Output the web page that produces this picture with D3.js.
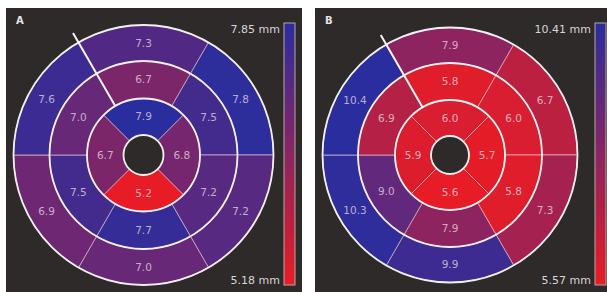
<!DOCTYPE html>
<html><head><meta charset="utf-8">
<script src="https://cdn.jsdelivr.net/npm/d3@7"></script>
<style>html,body{margin:0;padding:0;background:#fff;}svg{display:block;}</style>
</head><body>
<script>
// Data (segments listed clockwise from 12 o'clock)
const panelNames = ["A", "B"];
const outerA = [7.3, 7.8, 7.2, 7.0, 6.9, 7.6];
const middleA = [6.7, 7.5, 7.2, 7.7, 7.5, 7.0];
const innerA = [7.9, 6.8, 5.2, 6.7];
const outerB = [7.9, 6.7, 7.3, 9.9, 10.3, 10.4];
const middleB = [5.8, 6.0, 5.8, 7.9, 9.0, 6.9];
const innerB = [6.0, 5.7, 5.6, 5.9];
const rangeA = [5.18, 7.85];
const rangeB = [5.57, 10.41];
const tickLabelsA = ["7.85 mm", "5.18 mm"];
const tickLabelsB = ["10.41 mm", "5.57 mm"];

const W = 607, H = 292;
const svg = d3.select("body").append("svg").attr("width", W).attr("height", H);
const defs = svg.append("defs");
const RED = "#e91c25", BLUE = "#2a2d9e";
const grad = defs.append("linearGradient").attr("id", "cbar").attr("x1", 0).attr("y1", 1).attr("x2", 0).attr("y2", 0);
d3.range(0, 1.0001, 0.1).forEach(t => grad.append("stop").attr("offset", t).attr("stop-color", d3.interpolateRgb(RED, BLUE)(t)));

const panels = [
  {name: panelNames[0], x: 6, w: 296, cx: 143.5, cy: 155, r: [20, 56.5, 94, 130],
   outer: outerA, middle: middleA, inner: innerA, range: rangeA, ticks: tickLabelsA, barX: 284},
  {name: panelNames[1], x: 315, w: 292, cx: 450, cy: 155, r: [19, 55, 92, 127.5],
   outer: outerB, middle: middleB, inner: innerB, range: rangeB, ticks: tickLabelsB, barX: 595}
];

const deg = Math.PI / 180;
panels.forEach(p => {
  const g = svg.append("g");
  g.append("rect").attr("x", p.x).attr("y", 8).attr("width", p.w).attr("height", H - 8).attr("fill", "#2d2a29");
  g.append("text").attr("x", p.x + 10).attr("y", 24).text(p.name)
    .attr("fill", "#e6e6e6").attr("font-family", "DejaVu Sans").attr("font-weight", "bold").attr("font-size", 10);

  const color = d3.scaleLinear().domain(p.range).range([RED, BLUE]).interpolate(d3.interpolateRgb).clamp(true);
  const c = g.append("g").attr("transform", `translate(${p.cx},${p.cy})`);
  const rings = [
    {vals: p.outer, r0: p.r[2], r1: p.r[3], n: 6},
    {vals: p.middle, r0: p.r[1], r1: p.r[2], n: 6},
    {vals: p.inner, r0: p.r[0], r1: p.r[1], n: 4}
  ];
  rings.forEach(ring => {
    const step = 360 / ring.n;
    const segs = ring.vals.map((v, i) => ({v, a0: (i * step - step / 2) * deg, a1: (i * step + step / 2) * deg}));
    const arc = d3.arc().innerRadius(ring.r0).outerRadius(ring.r1).startAngle(d => d.a0).endAngle(d => d.a1);
    c.selectAll(null).data(segs).enter().append("path")
      .attr("d", arc).attr("fill", d => color(d.v))
      .attr("stroke", "rgba(255,225,225,0.55)").attr("stroke-width", 1);
    const rm = (ring.r0 + ring.r1) / 2;
    c.selectAll(null).data(segs).enter().append("text")
      .attr("x", d => rm * Math.sin((d.a0 + d.a1) / 2))
      .attr("y", d => -rm * Math.cos((d.a0 + d.a1) / 2))
      .attr("dy", "0.35em").attr("text-anchor", "middle")
      .attr("font-family", "DejaVu Sans").attr("font-size", 10.5)
      .attr("fill", "rgba(240,225,235,0.72)")
      .text(d => d3.format(".1f")(d.v));
  });
  c.append("circle").attr("r", p.r[0]).attr("fill", "#2d2a29");
  p.r.forEach(r => c.append("circle").attr("r", r).attr("fill", "none").attr("stroke", "#f2f0ee").attr("stroke-width", 1.8));
  // insertion marker line
  const a = -30 * deg;
  c.append("line")
    .attr("x1", p.r[1] * Math.sin(a)).attr("y1", -p.r[1] * Math.cos(a))
    .attr("x2", (p.r[3] + 11) * Math.sin(a)).attr("y2", -(p.r[3] + 11) * Math.cos(a))
    .attr("stroke", "#f4f4f4").attr("stroke-width", 2);

  // colour bar
  const y = d3.scaleLinear().domain(p.range).range([285, 23]);
  g.append("rect").attr("x", p.barX).attr("y", y(p.range[1])).attr("width", 11).attr("height", y(p.range[0]) - y(p.range[1]))
    .attr("fill", "url(#cbar)").attr("stroke", "#b9a89e").attr("stroke-width", 1);
  g.append("text").attr("x", p.barX - 4).attr("y", y(p.range[1]) + 10).attr("text-anchor", "end")
    .attr("font-family", "DejaVu Sans").attr("font-size", 11).attr("fill", "#d6d6d6").text(p.ticks[0]);
  g.append("text").attr("x", p.barX - 4).attr("y", y(p.range[0]) - 1).attr("text-anchor", "end")
    .attr("font-family", "DejaVu Sans").attr("font-size", 11).attr("fill", "#d6d6d6").text(p.ticks[1]);
});
</script>
</body></html>
